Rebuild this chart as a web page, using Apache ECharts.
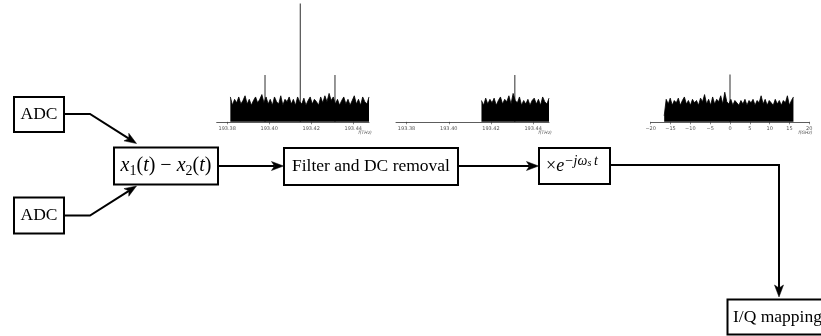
<!DOCTYPE html>
<html>
<head>
<meta charset="utf-8">
<script src="https://cdn.jsdelivr.net/npm/echarts@6/dist/echarts.min.js"></script>
<style>
html, body { margin: 0; padding: 0; background: #fff; }
#chart { width: 821px; height: 336px; }
</style>
</head>
<body>
<div id="chart"></div>
<script>
// Spectrum of the balanced-detector output, frequency in THz
const s1Start = 193.3815, s1End = 193.4475;
const s1Noise = [
  0.21, 0.14, 0.19, 0.16, 0.21, 0.15, 0.18, 0.22, 0.15, 0.19,
  0.14, 0.18, 0.21, 0.16, 0.19, 0.23, 0.16, 0.21, 0.15, 0.19,
  0.14, 0.21, 0.17, 0.15, 0.22, 0.14, 0.19, 0.17, 0.21, 0.15,
  0.19, 0.14, 0.21, 0.17, 0.15, 0.20, 0.14, 0.18, 0.21, 0.15,
  0.19, 0.17, 0.14, 0.21, 0.16, 0.22, 0.17, 0.24, 0.18, 0.21,
  0.15, 0.19, 0.14, 0.18, 0.21, 0.15, 0.19, 0.14, 0.18, 0.22,
  0.15, 0.19, 0.14, 0.21, 0.17, 0.15, 0.21
];
const s1ToneFreq = [193.398, 193.4148, 193.4313];
const s1ToneLevel = [0.396, 1.0, 0.396];

// After the band filter and DC removal, frequency in THz
const s2Start = 193.4155, s2End = 193.4475;
const s2Noise = [
  0.18, 0.14, 0.20, 0.15, 0.19, 0.16, 0.20, 0.14, 0.18, 0.21,
  0.15, 0.19, 0.17, 0.22, 0.15, 0.24, 0.18, 0.16, 0.21, 0.14,
  0.18, 0.15, 0.19, 0.14, 0.18, 0.20, 0.15, 0.19, 0.14, 0.21,
  0.17, 0.15, 0.20
];
const s2ToneFreq = [193.4313];
const s2ToneLevel = [0.396];

// After down-conversion to baseband, frequency in GHz
const s3Start = -16.6, s3End = 16.0;
const s3Noise = [
  0.05, 0.19, 0.15, 0.20, 0.14, 0.18, 0.16, 0.20, 0.14, 0.18,
  0.21, 0.15, 0.18, 0.14, 0.19, 0.16, 0.18, 0.14, 0.20, 0.17,
  0.23, 0.15, 0.19, 0.14, 0.21, 0.15, 0.19, 0.17, 0.22, 0.15,
  0.25, 0.17, 0.15, 0.19, 0.14, 0.18, 0.16, 0.14, 0.18, 0.15,
  0.19, 0.14, 0.18, 0.16, 0.19, 0.14, 0.18, 0.16, 0.22, 0.15,
  0.19, 0.14, 0.18, 0.16, 0.14, 0.19, 0.15, 0.18, 0.14, 0.18,
  0.16, 0.22, 0.14, 0.18, 0.21
];
const s3ToneFreq = [0];
const s3ToneLevel = [0.40];

// Tick labels
const thzTicks = [193.38, 193.40, 193.42, 193.44];
const ghzTicks = [-20, -15, -10, -5, 0, 5, 10, 15, 20];

const SERIF = '"Liberation Serif", "DejaVu Serif", serif';
const SANS = '"DejaVu Sans", sans-serif';

function sampled(start, end, values) {
  const step = (end - start) / (values.length - 1);
  return values.map((v, i) => [start + i * step, v]);
}
function paired(freqs, levels) {
  return freqs.map((f, i) => [f, levels[i]]);
}

function freqAxis(gridIndex, min, max, ticks, fmt, unit) {
  return {
    type: 'value', gridIndex, min, max,
    axisLine: { show: true, lineStyle: { color: '#333', width: 0.8 } },
    axisTick: { show: true, length: 2.5, lineStyle: { color: '#333', width: 0.6 }, customValues: ticks },
    axisLabel: { customValues: ticks, formatter: fmt, fontSize: 5, color: '#555', margin: 4, fontFamily: SANS },
    splitLine: { show: false },
    name: unit, nameLocation: 'end', nameGap: -4,
    nameTextStyle: { fontSize: 4.5, color: '#555', fontStyle: 'italic', fontFamily: SANS,
                     align: 'center', verticalAlign: 'top', padding: [9, 0, 0, 0] }
  };
}
function levelAxis(gridIndex) {
  return { type: 'value', gridIndex, min: 0, max: 1, show: false };
}
function noiseSeries(idx, data) {
  return {
    type: 'line', xAxisIndex: idx, yAxisIndex: idx, data, symbol: 'none',
    lineStyle: { color: '#000', width: 0.8 }, areaStyle: { color: '#000', opacity: 1 },
    silent: true, animation: false
  };
}
function toneSeries(idx, data) {
  return {
    type: 'bar', xAxisIndex: idx, yAxisIndex: idx, data, barWidth: 1.2,
    itemStyle: { color: '#505050' }, silent: true, animation: false
  };
}

const thzFmt = v => v.toFixed(2);
const ghzFmt = v => (v < 0 ? '\u2212' + (-v) : String(v));

// ---- block diagram ----
const INK = '#000';
function box(x, y, w, h) {
  return { type: 'rect', shape: { x, y, width: w, height: h },
           style: { fill: '#fff', stroke: INK, lineWidth: 2 }, z: 10 };
}
function text(x, y, str, opts) {
  return Object.assign({ type: 'text', x, y, z: 12,
    style: Object.assign({ text: str, fill: INK, font: '17.5px ' + SERIF,
                           align: 'center', verticalAlign: 'middle' }, opts || {}) });
}
function arrow(points) {
  const n = points.length;
  const [tx, ty] = points[n - 1];
  const [px, py] = points[n - 2];
  const len = Math.hypot(tx - px, ty - py);
  const dx = (tx - px) / len, dy = (ty - py) / len;
  const L = 12, W = 4.5, notch = 3;
  const bx = tx - dx * L, by = ty - dy * L;
  const nx = -dy, ny = dx;
  const stop = [tx - dx * (L - notch), ty - dy * (L - notch)];
  return [
    { type: 'polyline', shape: { points: points.slice(0, n - 1).concat([stop]) },
      style: { stroke: INK, lineWidth: 2, fill: null, lineJoin: 'miter' }, z: 8 },
    { type: 'polygon', shape: { points: [[tx, ty], [bx + nx * W, by + ny * W], stop, [bx - nx * W, by - ny * W]] },
      style: { fill: INK, stroke: INK, lineWidth: 0.5 }, z: 9 }
  ];
}

const mathRich = {
  it:  { fontFamily: SERIF, fontSize: 20, fontStyle: 'italic', lineHeight: 24, verticalAlign: 'middle' },
  rm:  { fontFamily: SERIF, fontSize: 20, lineHeight: 24, verticalAlign: 'middle' },
  sub: { fontFamily: SERIF, fontSize: 14, lineHeight: 14, verticalAlign: 'bottom' },
  sup: { fontFamily: SERIF, fontSize: 14, fontStyle: 'italic', lineHeight: 14, verticalAlign: 'top' },
  ssub:{ fontFamily: SERIF, fontSize: 10, fontStyle: 'italic', lineHeight: 10, verticalAlign: 'top', padding: [4.5, 0, 0, 0] },
  xr:  { fontFamily: SERIF, fontSize: 18, lineHeight: 24, verticalAlign: 'middle' },
  xi:  { fontFamily: SERIF, fontSize: 18, fontStyle: 'italic', lineHeight: 24, verticalAlign: 'middle' }
};

const graphics = [].concat(
  arrow([[64, 114], [90, 114], [136.5, 143.5]]),
  arrow([[64, 215.5], [90, 215.5], [136.5, 186]]),
  arrow([[218, 166], [283.5, 166]]),
  arrow([[458, 166], [538.5, 166]]),
  arrow([[610, 165], [779, 165], [779, 297]]),
  [
    box(14, 97, 50, 35), text(39, 114.5, 'ADC'),
    box(14, 197.5, 50, 36), text(39, 215.5, 'ADC'),
    box(114, 147.5, 104, 37),
    text(166, 166, '{it|x}{sub|1}{rm|(}{it|t}{rm|) \u2212 }{it|x}{sub|2}{rm|(}{it|t}{rm|)}', { rich: mathRich }),
    box(284, 148, 174, 37), text(371, 166.5, 'Filter and DC removal'),
    box(539, 148, 71, 36),
    text(572, 166, '{xr|\u00d7}{xi|e}{sup|\u2212j\u03c9}{ssub|s}{sup|\u2009t}', { rich: mathRich }),
    box(727.5, 299.5, 110, 35), text(733, 317.5, 'I/Q mapping', { align: 'left' })
  ]
);

const GRID_TOP = 3.5, GRID_H = 118.3;

const chart = echarts.init(document.getElementById('chart'), null, { renderer: 'canvas' });
chart.setOption({
  backgroundColor: '#fff',
  animation: false,
  grid: [
    { left: 216.7, top: GRID_TOP, width: 152.3, height: GRID_H },
    { left: 396, top: GRID_TOP, width: 153, height: GRID_H },
    { left: 650.7, top: GRID_TOP, width: 158.6, height: GRID_H }
  ],
  xAxis: [
    freqAxis(0, 193.375, 193.4475, thzTicks, thzFmt, 'f(THz)'),
    freqAxis(1, 193.375, 193.4475, thzTicks, thzFmt, 'f(THz)'),
    freqAxis(2, -20, 20, ghzTicks, ghzFmt, 'f(GHz)')
  ],
  yAxis: [levelAxis(0), levelAxis(1), levelAxis(2)],
  series: [
    noiseSeries(0, sampled(s1Start, s1End, s1Noise)),
    toneSeries(0, paired(s1ToneFreq, s1ToneLevel)),
    noiseSeries(1, sampled(s2Start, s2End, s2Noise)),
    toneSeries(1, paired(s2ToneFreq, s2ToneLevel)),
    noiseSeries(2, sampled(s3Start, s3End, s3Noise)),
    toneSeries(2, paired(s3ToneFreq, s3ToneLevel))
  ],
  graphic: graphics
});
</script>
</body>
</html>
